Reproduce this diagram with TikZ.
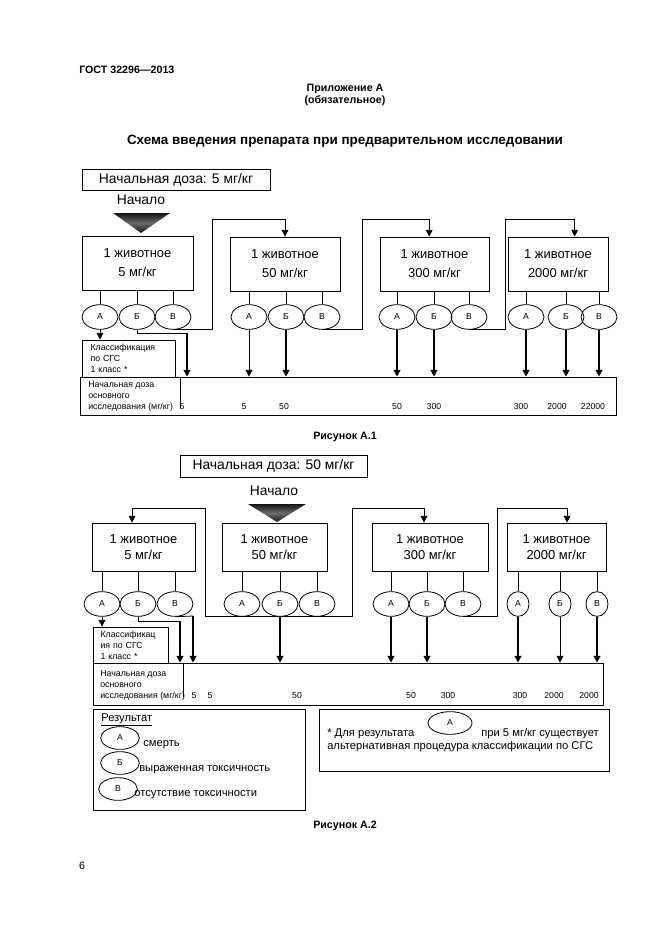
\documentclass[tikz,border=0pt]{standalone}
\usepackage{fontspec}
\setmainfont{Liberation Sans}
\usetikzlibrary{shapes.geometric,arrows.meta,calc}
\begin{document}
\begin{tikzpicture}[x=0.75pt,y=-0.75pt,
  bx/.style 2 args={draw, line width=0.6pt, inner sep=0pt, align=center, minimum width=#1*0.75pt, minimum height=#2*0.75pt},
  fbig/.style={font=\fontsize{10.4}{12}\selectfont},
  fbox/.style={font=\fontsize{9.7}{14.25}\selectfont},
  fboxb/.style={font=\fontsize{9.7}{12}\selectfont},
  ell/.style={draw, ellipse, line width=0.6pt, inner sep=0pt, minimum width=27pt, minimum height=18.5pt, font=\fontsize{6.5}{7}\selectfont},
  ells/.style={ell, minimum width=16.5pt},
  sm/.style={font=\fontsize{6.6}{8.25}\selectfont, align=left, inner sep=0pt},
  val/.style={font=\fontsize{6.5}{7}\selectfont, inner sep=0pt},
  ln/.style={line width=0.6pt},
  ar/.style={line width=0.6pt, -{Triangle[length=5pt,width=5pt]}},
  tk/.style={line width=1.4pt, -{Triangle[length=5pt,width=5pt]}},
  hd/.style={font=\bfseries\fontsize{8}{9}\selectfont, inner sep=0pt},
  leg/.style={font=\fontsize{8.4}{10}\selectfont, inner sep=0pt, anchor=west},
  tri/.style={top color=black!92, bottom color=black!92, middle color=black!58}]
\useasboundingbox (0,0) rectangle (661,936);

% header
\node[hd, anchor=west] (hdr) at (79,70) {ГОСТ 32296—2013};
\node[hd] (app) at (345,89) {Приложение А};
\node[hd] (app2) at (345,101) {(обязательное)};
\node[font=\bfseries\fontsize{10.1}{12}\selectfont, inner sep=0pt] (ttl) at (345,141) {Схема введения препарата при предварительном исследовании};

% ===== Figure A.1 =====
\node[bx={188}{21}, fbig] (s1) at (176,179.5) {Начальная доза: 5 мг/кг};
\node[fbig, inner sep=0pt] (n1) at (141,200) {Начало};
\shade[tri] (113,213) -- (170,213) -- (141,233) -- cycle;

\node[bx={111}{54}, fbox] (b11) at (137.5,263) {1 животное\\5 мг/кг};
\node[bx={110}{54}, fbox] (b12) at (285,264) {1 животное\\50 мг/кг};
\node[bx={109}{54}, fbox] (b13) at (434.5,264) {1 животное\\300 мг/кг};
\node[bx={100}{54}, fbox] (b14) at (558,264) {1 животное\\2000 мг/кг};

\node[ell] (e11a) at (100,317) {А};
\node[ell] (e11b) at (137,317) {Б};
\node[ell] (e11v) at (173,317) {В};
\node[ell] (e12a) at (249,317) {А};
\node[ell] (e12b) at (286,317) {Б};
\node[ell] (e12v) at (322,317) {В};
\node[ell] (e13a) at (397,317) {А};
\node[ell] (e13b) at (434,317) {Б};
\node[ell] (e13v) at (469,317) {В};
\node[ell] (e14a) at (526,317) {А};
\node[ell] (e14b) at (566,317) {Б};
\node[ell] (e14v) at (599,317) {В};

\foreach \b/\e in {b11/e11a,b11/e11b,b11/e11v,b12/e12a,b12/e12b,b12/e12v,b13/e13a,b13/e13b,b13/e13v,b14/e14a,b14/e14b,b14/e14v}
  \draw[ln] (\e.north) -- (\e.north |- \b.south);

\coordinate (k1) at (212,219);
\coordinate (k2) at (362,219);
\coordinate (k3) at (505,219);
\draw[ar] (e11v.south) -| (k1) -| (b12.north);
\draw[ar] (e12v.south) -| (k2) -| ([xshift=-4pt]b13.north);
\draw[ar] (e13v.south) -| (k3) -| ([xshift=12.5pt]b14.north);

\node[bx={93}{37}, sm, text width=57pt] (cls1) at (128.5,358.5) {Классификация\\по СГС\\1 класс *};
\node[bx={536}{38}] (bb1) at (348,396) {};
\draw[ln] ([xshift=75.75pt]bb1.north west) -- ++(0,31);
\node[sm, anchor=west] (lab1) at (88,396) {Начальная доза\\основного\\исследования (мг/кг)};

\draw[ar] (e11a.south) -- (e11a.south |- cls1.north);
\coordinate (c1) at (187,333);
\draw[ln] (e11b.south) |- (c1);
\draw[tk] (c1) -- (c1 |- bb1.north);
\draw[ar] (e12a.south) -- (e12a.south |- bb1.north);
\draw[tk] (e12b.south) -- (e12b.south |- bb1.north);
\draw[tk] (e13a.south) -- (e13a.south |- bb1.north);
\draw[tk] (e13b.south) -- (e13b.south |- bb1.north);
\draw[tk] (e14a.south) -- (e14a.south |- bb1.north);
\draw[tk] (e14b.south) -- (e14b.south |- bb1.north);
\draw[tk] (e14v.south) -- (e14v.south |- bb1.north);

\node[val] (v11) at (182,407) {5};
\node[val] (v12) at (244,407) {5};
\node[val] (v13) at (284,407) {50};
\node[val] (v14) at (397,407) {50};
\node[val] (v15) at (434,407) {300};
\node[val] (v16) at (521,407) {300};
\node[val] (v17) at (557,407) {2000};
\node[val] (v18) at (593,407) {22000};

\node[hd] (cap1) at (345,437) {Рисунок А.1};

% ===== Figure A.2 =====
\node[bx={187}{22}, fbig] (s2) at (273.5,466) {Начальная доза: 50 мг/кг};
\node[fbig, inner sep=0pt] (n2) at (274,491) {Начало};
\shade[tri] (248,504) -- (306,504) -- (277,522) -- cycle;

\node[bx={103}{48}, fboxb] (b21) at (143.5,547) {1 животное\\5 мг/кг};
\node[bx={105}{48}, fboxb] (b22) at (274.5,547) {1 животное\\50 мг/кг};
\node[bx={116}{48}, fboxb] (b23) at (430,547) {1 животное\\300 мг/кг};
\node[bx={99}{48}, fboxb] (b24) at (556.5,547) {1 животное\\2000 мг/кг};

\node[ell] (e21a) at (102,604) {А};
\node[ell] (e21b) at (138,604) {Б};
\node[ell] (e21v) at (175,604) {В};
\node[ell] (e22a) at (242,604) {А};
\node[ell] (e22b) at (280,604) {Б};
\node[ell] (e22v) at (317,604) {В};
\node[ell] (e23a) at (391,604) {А};
\node[ell] (e23b) at (427,604) {Б};
\node[ell] (e23v) at (463,604) {В};
\node[ells] (e24a) at (518,604) {А};
\node[ells] (e24b) at (560,604) {Б};
\node[ells] (e24v) at (597,604) {В};

\foreach \b/\e in {b21/e21a,b21/e21b,b21/e21v,b22/e22a,b22/e22b,b22/e22v,b23/e23a,b23/e23b,b23/e23v,b24/e24a,b24/e24b,b24/e24v}
  \draw[ln] (\e.north) -- (\e.north |- \b.south);

\coordinate (k4) at (205,508);
\coordinate (k5) at (352,508);
\coordinate (k6) at (497,508);
\draw[ln] (e22a.south) -- (e22v.south);
\draw[ar] (e22a.south) -| (k4) -| ([xshift=-8.6pt]b21.north);
\draw[ar] (e22v.south) -| (k5) -| ([xshift=-4.5pt]b23.north);
\draw[ar] (e23v.south) -| (k6) -| ([xshift=7.9pt]b24.north);

\node[bx={75}{36}, sm, text width=45pt] (cls2) at (130.5,645) {Классификац\\ия по СГС\\1 класс *};
\node[bx={510}{42}] (bb2) at (348,684) {};
\draw[ln] ([xshift=68.25pt]bb2.north west) -- ++(0,34);
\node[sm, anchor=west] (lab2) at (100,685) {Начальная доза\\основного\\исследования (мг/кг)};

\draw[ar] (e21a.south) -- (e21a.south |- cls2.north);
\coordinate (c2) at (180,621);
\draw[ln] (e21b.south) |- (c2);
\draw[tk] (c2) -- (c2 |- bb2.north);
\coordinate (c3) at (193,616);
\draw[ln] (e21v.south) -- (c3);
\draw[tk] (c3) -- (c3 |- bb2.north);
\draw[tk] (e22b.south) -- (e22b.south |- bb2.north);
\draw[tk] (e23a.south) -- (e23a.south |- bb2.north);
\draw[tk] (e23b.south) -- (e23b.south |- bb2.north);
\draw[tk] (e24a.south) -- (e24a.south |- bb2.north);
\draw[ar] (e24b.south) -- (e24b.south |- bb2.north);
\draw[tk] (e24v.south) -- (e24v.south |- bb2.north);

\node[val] (v21) at (194,696) {5};
\node[val] (v22) at (210,696) {5};
\node[val] (v23) at (297,696) {50};
\node[val] (v24) at (411,696) {50};
\node[val] (v25) at (448,696) {300};
\node[val] (v26) at (520,696) {300};
\node[val] (v27) at (554,696) {2000};
\node[val] (v28) at (589,696) {2000};

% legend
\node[bx={212}{101}] (lg) at (199,759.5) {};
\node[leg] (lgt) at (101,720) {\underline{Результат}};
\node[ell, minimum width=29pt, minimum height=17pt] (la) at (120,738) {А};
\node[leg] (lat) at (143,745) {смерть};
\node[ell, minimum width=29pt, minimum height=17pt] (lb) at (120,763) {Б};
\node[leg] (lbt) at (139,770) {выраженная токсичность};
\node[ell, minimum width=29pt, minimum height=17pt] (lv) at (118,789) {В};
\node[leg] (lvt) at (134,795) {отсутствие токсичности};

% footnote
\node[bx={290}{62}] (fn) at (464,740) {};
\node[leg] (f1) at (327,734) {* Для результата};
\node[ell, minimum width=33pt, minimum height=17pt] (fa) at (450,723) {А};
\node[leg, anchor=east] (f2) at (599,734) {при 5 мг/кг существует};
\node[leg] (f3) at (327,747) {альтернативная процедура классификации по СГС};

\node[hd] (cap2) at (345,826) {Рисунок А.2};
\node[font=\fontsize{8}{9}\selectfont, inner sep=0pt] (pg) at (82,866) {6};
\end{tikzpicture}
\end{document}
